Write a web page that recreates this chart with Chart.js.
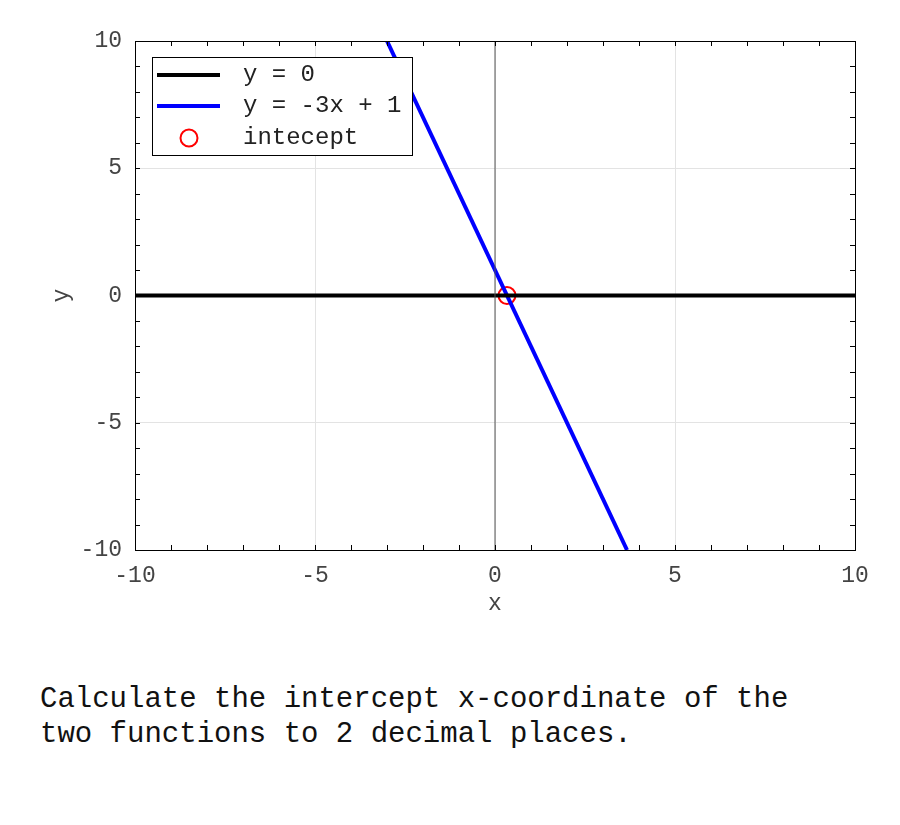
<!DOCTYPE html>
<html>
<head>
<meta charset="utf-8">
<script src="https://cdn.jsdelivr.net/npm/chart.js@4/dist/chart.umd.min.js"></script>
<style>
  html, body { margin: 0; padding: 0; background: #fff; }
  #wrap { position: relative; width: 900px; height: 640px; }
  #pregunta {
    position: absolute; left: 40px; top: 682px;
    font-family: "Courier New", "Nimbus Mono PS", FreeMono, "Liberation Mono", monospace;
    font-size: 29px; line-height: 35px; color: #111; white-space: pre;
  }
</style>
</head>
<body>
<div id="wrap"><canvas id="grafico" width="900" height="640"></canvas></div>
<div id="pregunta">Calculate the intercept x-coordinate of the
two functions to 2 decimal places.</div>

<script>
const FUENTE = '"Courier New", "Nimbus Mono PS", FreeMono, "Liberation Mono", monospace';

// datos
const rangoX = [-10, 10];
const rangoY = [-10, 10];
const marcasMayores = [-10, -5, 0, 5, 10];
const marcasMenores = [-10, -9, -8, -7, -6, -5, -4, -3, -2, -1, 0, 1, 2, 3, 4, 5, 6, 7, 8, 9, 10];

const cerosX = [-10, 10];
const cerosY = [0, 0];
const rectaX = [-3, 3.667];
const rectaY = [10, -10];
const cruceX = [0.333];
const cruceY = [0];
const ejeVertX = [0, 0];
const ejeVertY = [-10, 10];

const etiquetas = ['y = 0', 'y = -3x + 1', 'intecept'];

const pares = (xs, ys) => xs.map((x, i) => ({ x, y: ys[i] }));

// marcas hacia adentro en los cuatro lados + leyenda recuadrada
const marcasYLeyenda = {
  id: 'marcasYLeyenda',
  afterDraw(chart) {
    const { ctx, chartArea: a, scales: { x, y } } = chart;
    ctx.save();
    ctx.strokeStyle = '#000';
    ctx.lineWidth = 1;
    ctx.beginPath();
    marcasMenores.forEach(v => {
      const px = Math.round(x.getPixelForValue(v)) + 0.5;
      ctx.moveTo(px, a.bottom); ctx.lineTo(px, a.bottom - 5);
      ctx.moveTo(px, a.top); ctx.lineTo(px, a.top + 5);
      const py = Math.round(y.getPixelForValue(v)) + 0.5;
      ctx.moveTo(a.left, py); ctx.lineTo(a.left + 5, py);
      ctx.moveTo(a.right, py); ctx.lineTo(a.right - 5, py);
    });
    ctx.stroke();
    ctx.strokeRect(Math.round(a.left) + 0.5, Math.round(a.top) + 0.5,
      Math.round(a.right - a.left), Math.round(a.bottom - a.top));

    // leyenda
    const bx = a.left + 17, by = a.top + 16, bw = 260, bh = 98;
    ctx.fillStyle = '#fff';
    ctx.fillRect(bx, by, bw, bh);
    ctx.strokeStyle = '#000';
    ctx.strokeRect(Math.round(bx) + 0.5, Math.round(by) + 0.5, bw, bh);

    const filas = [by + 18, by + 49, by + 81];
    ctx.lineWidth = 4;
    ctx.strokeStyle = '#000';
    ctx.beginPath(); ctx.moveTo(bx + 5, filas[0]); ctx.lineTo(bx + 68, filas[0]); ctx.stroke();
    ctx.strokeStyle = '#0000ff';
    ctx.beginPath(); ctx.moveTo(bx + 5, filas[1]); ctx.lineTo(bx + 68, filas[1]); ctx.stroke();
    ctx.lineWidth = 2;
    ctx.strokeStyle = '#ff0000';
    ctx.beginPath(); ctx.arc(bx + 37, filas[2], 8.5, 0, Math.PI * 2); ctx.stroke();

    ctx.fillStyle = '#222';
    ctx.font = '24px ' + FUENTE;
    ctx.textBaseline = 'middle';
    ctx.textAlign = 'left';
    etiquetas.forEach((t, i) => ctx.fillText(t, bx + 91, filas[i]));
    ctx.restore();
  }
};

const fuenteEje = { family: FUENTE, size: 23 };

new Chart(document.getElementById('grafico'), {
  type: 'scatter',
  data: {
    datasets: [
      {
        label: 'eje',
        data: pares(ejeVertX, ejeVertY),
        showLine: true, borderColor: '#555', borderWidth: 1,
        pointRadius: 0,
      },
      {
        label: etiquetas[0],
        data: pares(cerosX, cerosY),
        showLine: true, borderColor: '#000', borderWidth: 4,
        pointRadius: 0,
      },
      {
        label: etiquetas[1],
        data: pares(rectaX, rectaY),
        showLine: true, borderColor: '#0000ff', borderWidth: 4,
        pointRadius: 0,
      },
      {
        label: etiquetas[2],
        data: pares(cruceX, cruceY),
        showLine: false, borderColor: '#ff0000', backgroundColor: 'rgba(0,0,0,0)',
        borderWidth: 2, pointRadius: 8.5, pointStyle: 'circle',
      },
    ],
  },
  options: {
    responsive: false,
    animation: false,
    layout: { padding: { top: 41, right: 45, left: 0, bottom: 0 } },
    plugins: { legend: { display: false }, tooltip: { enabled: false } },
    scales: {
      x: {
        type: 'linear', min: rangoX[0], max: rangoX[1],
        afterBuildTicks: s => { s.ticks = marcasMayores.map(v => ({ value: v })); },
        afterFit: s => { s.height = 90; },
        grid: { color: '#e3e3e3', drawTicks: false },
        border: { display: false },
        ticks: { font: fuenteEje, color: '#444', padding: 12, maxRotation: 0 },
        title: { display: true, text: 'x', font: fuenteEje, color: '#444', padding: { top: 0, bottom: 22 } },
      },
      y: {
        type: 'linear', min: rangoY[0], max: rangoY[1],
        afterBuildTicks: s => { s.ticks = marcasMayores.map(v => ({ value: v })); },
        afterFit: s => { s.width = 135; },
        grid: { color: '#e3e3e3', drawTicks: false },
        border: { display: false },
        ticks: { font: fuenteEje, color: '#444', padding: 13 },
        title: { display: true, text: 'y', font: fuenteEje, color: '#444', padding: { top: 48, bottom: 0 } },
      },
    },
  },
  plugins: [marcasYLeyenda],
});
</script>
</body>
</html>
